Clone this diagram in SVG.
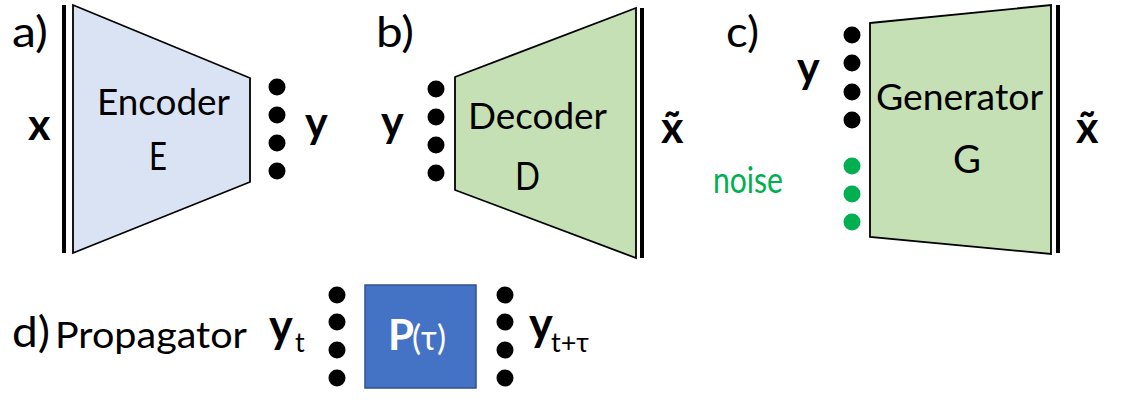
<svg xmlns="http://www.w3.org/2000/svg" width="1123" height="413" viewBox="0 0 1123 413">
<style>
text{font-family:Lato,"Open Sans","Liberation Sans",sans-serif;fill:#000}
.lbl{font-size:43px}
.body{font-size:36px}
.big{font-size:39px}
.bold{font-size:43px;font-weight:bold}
.shape{stroke:#000;stroke-width:1.8;stroke-linejoin:miter}
.enc{fill:#dae3f3}
.dec{fill:#c5e0b4}
.bar{stroke:#000;stroke-width:4}
.dot{fill:#000}
.gdot{fill:#00b050}
</style>
<rect width="1123" height="413" fill="#fff"/>

<g id="panel-a">
  <text class="lbl" x="12" y="47" textLength="36" lengthAdjust="spacingAndGlyphs">a)</text>
  <line class="bar" x1="64" y1="5" x2="64" y2="253"/>
  <text class="bold" x="28" y="140">x</text>
  <g id="encoder">
    <polygon class="shape enc" points="73,5 250,78 250,182 73,253"/>
    <text class="body" x="97" y="115" textLength="133" lengthAdjust="spacingAndGlyphs">Encoder</text>
    <text class="big" x="149" y="170" textLength="18" lengthAdjust="spacingAndGlyphs">E</text>
  </g>
  <g id="latent-a">
    <circle class="dot" cx="277" cy="87" r="8.5"/>
    <circle class="dot" cx="277" cy="115" r="8.5"/>
    <circle class="dot" cx="277" cy="143" r="8.5"/>
    <circle class="dot" cx="277" cy="171" r="8.5"/>
  </g>
  <text class="bold" x="305" y="138">y</text>
</g>

<g id="panel-b">
  <text class="lbl" x="376" y="47" textLength="38" lengthAdjust="spacingAndGlyphs">b)</text>
  <text class="bold" x="381" y="137">y</text>
  <g id="latent-b">
    <circle class="dot" cx="436" cy="89" r="8.5"/>
    <circle class="dot" cx="436" cy="117" r="8.5"/>
    <circle class="dot" cx="436" cy="145" r="8.5"/>
    <circle class="dot" cx="436" cy="173" r="8.5"/>
  </g>
  <g id="decoder">
    <polygon class="shape dec" points="455,77 636,8 636,258 455,190"/>
    <text class="body" x="468" y="129" textLength="139" lengthAdjust="spacingAndGlyphs">Decoder</text>
    <text class="big" x="515" y="190" textLength="25" lengthAdjust="spacingAndGlyphs">D</text>
  </g>
  <line class="bar" x1="642" y1="8" x2="642" y2="258"/>
  <text class="bold" x="661" y="143">x̃</text>
</g>

<g id="panel-c">
  <text class="lbl" x="726" y="47" textLength="33" lengthAdjust="spacingAndGlyphs">c)</text>
  <text class="bold" x="797" y="83">y</text>
  <text class="body" x="713" y="193" textLength="70" lengthAdjust="spacingAndGlyphs" style="fill:#00b050">noise</text>
  <g id="latent-c">
    <circle class="dot" cx="852" cy="35" r="8.5"/>
    <circle class="dot" cx="852" cy="63" r="8.5"/>
    <circle class="dot" cx="852" cy="92" r="8.5"/>
    <circle class="dot" cx="852" cy="120" r="8.5"/>
    <circle class="gdot" cx="852" cy="166" r="8.5"/>
    <circle class="gdot" cx="852" cy="194" r="8.5"/>
    <circle class="gdot" cx="852" cy="222" r="8.5"/>
  </g>
  <g id="generator">
    <polygon class="shape dec" points="870,23 1051,5 1051,254 870,237"/>
    <text class="body" x="876" y="110" textLength="167" lengthAdjust="spacingAndGlyphs">Generator</text>
    <text class="big" x="953" y="173" textLength="28" lengthAdjust="spacingAndGlyphs">G</text>
  </g>
  <line class="bar" x1="1058" y1="5" x2="1058" y2="253"/>
  <text class="bold" x="1076" y="143">x̃</text>
</g>

<g id="panel-d">
  <text class="lbl" x="12" y="347" textLength="38" lengthAdjust="spacingAndGlyphs">d)</text>
  <text class="body" x="55" y="348" textLength="192" lengthAdjust="spacingAndGlyphs">Propagator</text>
  <text x="269" y="342"><tspan style="font-size:45px;font-weight:bold">y</tspan><tspan x="295" y="352" style="font-size:27px">t</tspan></text>
  <g id="latent-d-in">
    <circle class="dot" cx="337" cy="295" r="8.5"/>
    <circle class="dot" cx="337" cy="322" r="8.5"/>
    <circle class="dot" cx="337" cy="350" r="8.5"/>
    <circle class="dot" cx="337" cy="378" r="8.5"/>
  </g>
  <g id="propagator">
    <rect x="365" y="285" width="111" height="103" fill="#4472c4" stroke="#2f528f" stroke-width="1.5"/>
    <text x="388" y="350" style="fill:#fff"><tspan style="font-size:42px;font-weight:bold;fill:#fff">P</tspan><tspan x="412" y="350" style="font-size:34px;fill:#fff">(τ)</tspan></text>
  </g>
  <g id="latent-d-out">
    <circle class="dot" cx="505" cy="295" r="8.5"/>
    <circle class="dot" cx="505" cy="322" r="8.5"/>
    <circle class="dot" cx="505" cy="350" r="8.5"/>
    <circle class="dot" cx="505" cy="378" r="8.5"/>
  </g>
  <text x="529" y="340"><tspan style="font-size:45px;font-weight:bold">y</tspan><tspan x="551" y="352" style="font-size:27px">t+τ</tspan></text>
</g>

<g id="connectors"/>
</svg>
